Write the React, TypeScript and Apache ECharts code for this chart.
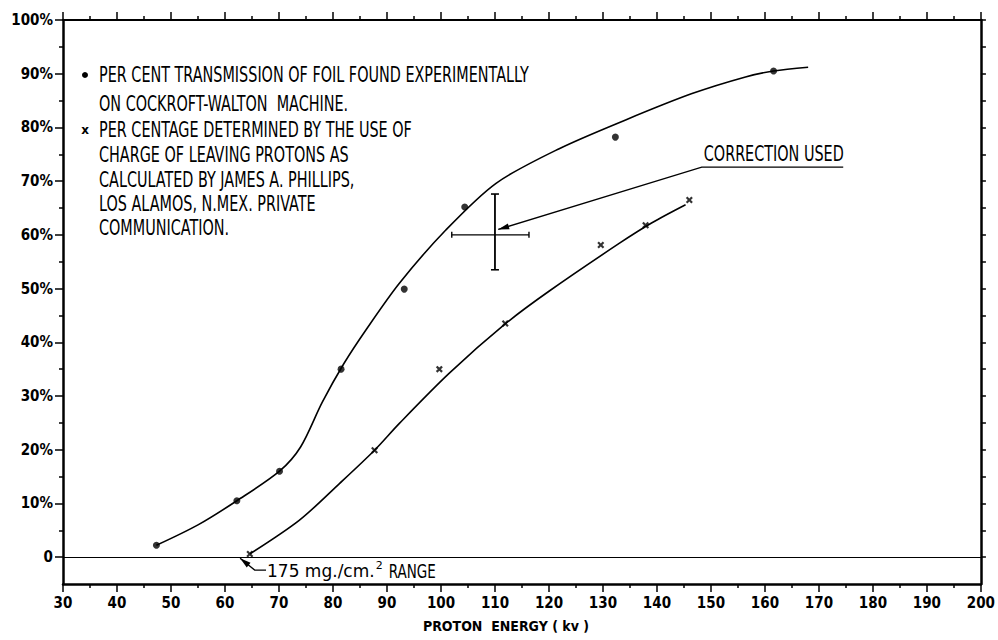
import React, { useEffect, useRef } from "react";
import * as echarts from "echarts";

// ---------- data ----------
const yLabelValues = [0, 10, 20, 30, 40, 50, 60, 70, 80, 90, 100];
const yMinorTickValues = [5, 15, 25, 35, 45, 55, 65, 75, 85, 95];
const yRightTickValues = [0, 5, 10, 15, 20, 25, 30, 35, 40, 45, 50, 55, 60, 65, 70, 75, 80, 85, 90, 95, 100];

// measured transmission (dots)
const foilPoints: number[][] = [
  [47.3, 2.2], [62.2, 10.5], [70.1, 16.0], [81.5, 35.0],
  [93.2, 49.9], [104.4, 65.2], [132.3, 78.2], [161.6, 90.5],
];
// hand-drawn curve through the dots
const foilCurve: number[][] = [
  [47.3, 2.2], [55, 6.0], [62.2, 10.5], [70.1, 16.0], [74, 20.5], [78, 28.8],
  [82, 36.0], [86.1, 42.3], [92.3, 51.0], [100.9, 60.9], [110.2, 69.6],
  [121.8, 76.0], [134.2, 81.4], [146.5, 86.3], [156.4, 89.4], [161.6, 90.5], [168, 91.2],
];
// computed from charge of leaving protons (crosses)
const chargePoints: number[][] = [
  [64.6, 0.6], [87.7, 19.9], [99.7, 35.0], [111.9, 43.5],
  [129.6, 58.1], [137.9, 61.8], [146.0, 66.5],
];
const chargeCurve: number[][] = [
  [64.6, 0.6], [73.8, 6.9], [81.2, 13.7], [87.7, 19.9], [92.3, 24.9],
  [101.5, 34.2], [112.0, 43.5], [120, 49.5], [133.0, 58.4],
  [139, 62.2], [145.3, 65.6],
];
// "correction used" error bar: [low, centre, high]
const errorBarX = [102.0, 110.0, 116.3];
const errorBarY = [53.5, 60.0, 67.6];
// leader lines (start ... arrow tip)
const correctionLeader: number[][] = [[174.5, 72.6], [148.3, 72.6], [110.6, 61.0]];
const rangeLeader: number[][] = [[67.6, -2.4], [65.5, -2.4], [62.8, -0.2]];

const legendLines = [
  "PER CENT TRANSMISSION OF FOIL FOUND EXPERIMENTALLY",
  "ON COCKROFT-WALTON  MACHINE.",
  "PER CENTAGE DETERMINED BY THE USE OF",
  "CHARGE OF LEAVING PROTONS AS",
  "CALCULATED BY JAMES A. PHILLIPS,",
  "LOS ALAMOS, N.MEX. PRIVATE",
  "COMMUNICATION.",
];
const xAxisTitle = "PROTON  ENERGY ( kv )";
const correctionText = "CORRECTION USED";
const rangeTextA = "175 mg./cm.";
const rangeTextSup = "2";
const rangeTextB = "RANGE";

// ---------- styles / layout ----------
const FONT_C = '"DejaVu Sans Condensed", "Liberation Sans Narrow", "DejaVu Sans", sans-serif';
const FONT_R = '"DejaVu Sans", "Liberation Sans", sans-serif';
const INK = "#000";
const legendLineY = [75, 104, 130, 155, 180, 204, 228];
const LEGEND_X = 99;
const LETTER_SCALE_Y = 1.3;

function measure(text: string, font: string): number {
  const c = document.createElement("canvas").getContext("2d");
  if (!c) return text.length * 8;
  c.font = font;
  return c.measureText(text).width;
}

export default function App() {
  const ref = useRef<HTMLDivElement>(null);
  useEffect(() => {
    document.body.style.margin = "0";
    if (!ref.current) return;
    const chart = echarts.init(ref.current, null, { renderer: "svg" });

    const crossSymbol = "path://M0,2.2L2.2,0L5,2.8L7.8,0L10,2.2L7.2,5L10,7.8L7.8,10L5,7.2L2.2,10L0,7.8L2.8,5Z";

    const graphics: any[] = legendLines.map((t, i) => ({
      type: "text",
      x: LEGEND_X,
      y: legendLineY[i],
      scaleY: LETTER_SCALE_Y,
      style: { text: t, font: `16px ${FONT_C}`, fill: INK, align: "left", verticalAlign: "middle" },
    }));
    graphics.push({ type: "circle", shape: { cx: 85, cy: legendLineY[0], r: 3 }, style: { fill: INK } });
    graphics.push({
      type: "text", x: 85, y: legendLineY[2],
      style: { text: "x", font: `bold 12px ${FONT_R}`, fill: INK, align: "center", verticalAlign: "middle" },
    });

    const fontA = `17px ${FONT_R}`;
    const fontSup = `11px ${FONT_R}`;
    const fontB = `15px ${FONT_C}`;
    const wA = measure(rangeTextA, fontA);
    const wSup = measure(rangeTextSup, fontSup);

    const annotationRender = (params: any, api: any) => {
      const c = (p: number[]) => api.coord(p);
      const ln = (a: number[], b: number[], w = 1.4) => ({
        type: "line",
        shape: { x1: a[0], y1: a[1], x2: b[0], y2: b[1] },
        style: { stroke: INK, lineWidth: w },
      });
      const children: any[] = [];
      // error bar
      const pL = c([errorBarX[0], errorBarY[1]]);
      const pR = c([errorBarX[2], errorBarY[1]]);
      const pT = c([errorBarX[1], errorBarY[2]]);
      const pB = c([errorBarX[1], errorBarY[0]]);
      children.push(ln(pL, pR, 1.4), ln(pT, pB, 1.8));
      children.push(ln([pL[0], pL[1] - 3], [pL[0], pL[1] + 3], 1.4));
      children.push(ln([pR[0], pR[1] - 3], [pR[0], pR[1] + 3], 1.4));
      children.push(ln([pT[0] - 4, pT[1]], [pT[0] + 4, pT[1]], 1.6));
      children.push(ln([pB[0] - 4, pB[1]], [pB[0] + 4, pB[1]], 1.6));

      const leader = (pts: number[][]) => {
        const px = pts.map(c);
        children.push({
          type: "polyline",
          shape: { points: px },
          style: { stroke: INK, lineWidth: 1.3, fill: null },
        });
        const tip = px[px.length - 1];
        const prev = px[px.length - 2];
        const dx = tip[0] - prev[0];
        const dy = tip[1] - prev[1];
        const len = Math.sqrt(dx * dx + dy * dy) || 1;
        const ux = dx / len, uy = dy / len;
        const L = 11, W = 3;
        const bx = tip[0] - ux * L, by = tip[1] - uy * L;
        children.push({
          type: "polygon",
          shape: { points: [tip, [bx - uy * W, by + ux * W], [bx + uy * W, by - ux * W]] },
          style: { fill: INK },
        });
      };
      leader(correctionLeader);
      leader(rangeLeader);

      const cStart = c(correctionLeader[1]);
      children.push({
        type: "text", x: cStart[0] + 2, y: cStart[1] - 3, scaleY: LETTER_SCALE_Y,
        style: { text: correctionText, font: `16px ${FONT_C}`, fill: INK, align: "left", verticalAlign: "bottom" },
      });
      const rStart = c(rangeLeader[0]);
      const rx = rStart[0] + 1;
      const ry = rStart[1] + 1;
      children.push({
        type: "text", x: rx, y: ry,
        style: { text: rangeTextA, font: fontA, fill: INK, align: "left", verticalAlign: "middle" },
      });
      children.push({
        type: "text", x: rx + wA + 1, y: ry - 6,
        style: { text: rangeTextSup, font: fontSup, fill: INK, align: "left", verticalAlign: "middle" },
      });
      children.push({
        type: "text", x: rx + wA + wSup + 7, y: ry, scaleY: LETTER_SCALE_Y,
        style: { text: rangeTextB, font: fontB, fill: INK, align: "left", verticalAlign: "middle" },
      });
      return { type: "group", children };
    };

    const tickLabelStyle = { color: INK, fontFamily: FONT_C, fontSize: 15, fontWeight: "bold" as const };

    chart.setOption({
      animation: false,
      backgroundColor: "#fff",
      grid: { left: 63, right: 15, top: 20, bottom: 56, containLabel: false },
      xAxis: [
        {
          type: "value", min: 30, max: 200, interval: 10, position: "bottom",
          axisLine: { show: true, onZero: false, lineStyle: { color: INK, width: 2.5 } },
          axisTick: { show: true, length: 8, lineStyle: { color: INK, width: 1.5 } },
          minorTick: { show: true, splitNumber: 2, length: 4, lineStyle: { color: INK, width: 1.5 } },
          splitLine: { show: false },
          axisLabel: { ...tickLabelStyle, margin: 11 },
          name: xAxisTitle, nameLocation: "middle", nameGap: 35,
          nameTextStyle: { color: INK, fontFamily: FONT_C, fontSize: 14, fontWeight: "bold", padding: [0, 32, 0, 0] },
        },
        {
          type: "value", min: 30, max: 200, interval: 10, position: "top",
          axisLine: { show: true, onZero: false, lineStyle: { color: INK, width: 1.8 } },
          axisTick: { show: true, length: 8, lineStyle: { color: INK, width: 1.5 } },
          minorTick: { show: true, splitNumber: 2, length: 4, lineStyle: { color: INK, width: 1.5 } },
          splitLine: { show: false },
          axisLabel: { show: false },
        },
      ],
      yAxis: [
        {
          type: "value", min: -5, max: 100, position: "left",
          axisLine: { show: true, onZero: false, lineStyle: { color: INK, width: 2.5 } },
          axisTick: { show: true, length: 8, customValues: yLabelValues, lineStyle: { color: INK, width: 1.5 } },
          axisLabel: {
            ...tickLabelStyle, margin: 10, customValues: yLabelValues,
            formatter: (v: number) => (v === 0 ? "0" : `${v}%`),
          },
          splitLine: { show: false },
        },
        {
          type: "value", min: -5, max: 100, position: "left",
          axisLine: { show: false },
          axisTick: { show: true, length: 4, customValues: yMinorTickValues, lineStyle: { color: INK, width: 1.5 } },
          axisLabel: { show: false },
          splitLine: { show: false },
        },
        {
          type: "value", min: -5, max: 100, position: "right",
          axisLine: { show: true, onZero: false, lineStyle: { color: INK, width: 2.5 } },
          axisTick: { show: true, length: 5, customValues: yRightTickValues, lineStyle: { color: INK, width: 1.5 } },
          axisLabel: { show: false },
          splitLine: { show: false },
        },
      ],
      series: [
        {
          name: "foil curve", type: "line", data: foilCurve, smooth: 0.3,
          showSymbol: false, symbol: "none", lineStyle: { color: INK, width: 1.6 },
          markLine: {
            silent: true, symbol: ["none", "none"], label: { show: false },
            lineStyle: { color: INK, width: 1.2, type: "solid" },
            data: [{ yAxis: 0 }],
          },
        },
        {
          name: "foil", type: "scatter", data: foilPoints, symbol: "circle", symbolSize: 7,
          itemStyle: { color: INK },
        },
        {
          name: "charge curve", type: "line", data: chargeCurve, smooth: 0.3,
          showSymbol: false, symbol: "none", lineStyle: { color: INK, width: 1.6 },
        },
        {
          name: "charge", type: "scatter", data: chargePoints, symbol: crossSymbol, symbolSize: 7,
          itemStyle: { color: INK },
        },
        {
          name: "annotations", type: "custom", clip: false, silent: true,
          data: [[errorBarX[1], errorBarY[1]]],
          renderItem: annotationRender,
        },
      ],
      graphic: graphics,
    });
    return () => chart.dispose();
  }, []);
  return <div ref={ref} style={{ width: 998, height: 640 }} />;
}
